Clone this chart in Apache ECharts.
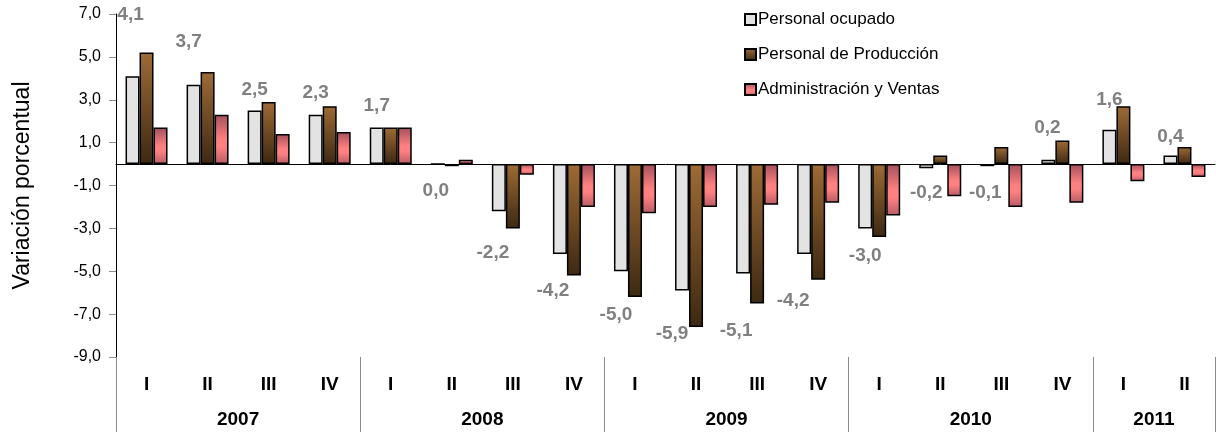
<!DOCTYPE html>
<html>
<head>
<meta charset="utf-8">
<script src="https://cdn.jsdelivr.net/npm/echarts@6/dist/echarts.min.js"></script>
<style>
  html, body { margin: 0; padding: 0; background: #fff; }
  #chart { width: 1216px; height: 432px; }
</style>
</head>
<body>
<div id="chart"></div>
<script>
var quarters = ['I', 'II', 'III', 'IV', 'I', 'II', 'III', 'IV', 'I', 'II', 'III', 'IV', 'I', 'II', 'III', 'IV', 'I', 'II'];
var years = ['2007', '2008', '2009', '2010', '2011'];
var quartersPerYear = [4, 4, 4, 4, 2];

var personalOcupado = [4.1, 3.7, 2.5, 2.3, 1.7, 0.0, -2.2, -4.2, -5.0, -5.9, -5.1, -4.2, -3.0, -0.2, -0.1, 0.2, 1.6, 0.4];
var personalProduccion = [5.2, 4.3, 2.9, 2.7, 1.7, -0.1, -3.0, -5.2, -6.2, -7.6, -6.5, -5.4, -3.4, 0.4, 0.8, 1.1, 2.7, 0.8];
var adminVentas = [1.7, 2.3, 1.4, 1.5, 1.7, 0.2, -0.5, -2.0, -2.3, -2.0, -1.9, -1.8, -2.4, -1.5, -2.0, -1.8, -0.8, -0.6];

var yTicks = [-9, -7, -5, -3, -1, 1, 3, 5, 7];

// ajuste de las etiquetas de Personal ocupado: [dx, distancia]
var labelShift = [[-2, 52], [-5, 33], [0, 11], [0, 12], [0, 12], [-2, 16], [-6, 32], [-7, 27], [-5, 34],
                  [-10, 34], [-7, 48], [-11, 37], [0, 18], [0, 15], [-2, 17], [-1, 23], [0, 20], [0, 9]];

function coma(v) {
  return v.toFixed(1).replace('.', ',');
}

// limites y centros de cada año sobre el eje de trimestres
var yearEdges = [0];
var yearCenters = [];
quartersPerYear.forEach(function (n, i) {
  yearCenters.push(yearEdges[i] + n / 2);
  yearEdges.push(yearEdges[i] + n);
});

var ocupadoData = personalOcupado.map(function (v, i) {
  return {
    value: v,
    label: {
      position: v > 0 ? 'top' : 'bottom',
      distance: labelShift[i][1],
      offset: [labelShift[i][0], 0]
    }
  };
});

var grayLine = '#8c8c8c';
var fuente = "'Liberation Sans', Arial, sans-serif";

var option = {
  animation: false,
  textStyle: { fontFamily: fuente },
  grid: { left: 116, right: 1, top: 14, bottom: 75 },
  legend: {
    orient: 'vertical',
    left: 739,
    top: 6,
    icon: 'rect',
    itemWidth: 11,
    itemHeight: 11,
    itemGap: 18,
    textStyle: { fontSize: 17, color: '#000', fontFamily: fuente, padding: [0, 0, 0, -3] },
    data: ['Personal ocupado', 'Personal de Producción', 'Administración y Ventas']
  },
  xAxis: [
    {
      type: 'category',
      data: quarters,
      position: 'bottom',
      axisLine: { onZero: true, lineStyle: { color: '#000', width: 1 } },
      axisTick: { length: 5, lineStyle: { color: grayLine } },
      axisLabel: { show: false }
    },
    {
      type: 'category',
      data: quarters,
      position: 'bottom',
      axisLine: { show: false, onZero: false },
      axisTick: { length: 37, lineStyle: { color: '#b0b0b0' } },
      axisLabel: { margin: 18, fontSize: 19, fontWeight: 'bold', color: '#000', fontFamily: fuente }
    },
    {
      type: 'value',
      min: 0,
      max: yearEdges[yearEdges.length - 1],
      position: 'bottom',
      splitLine: { show: false },
      axisLine: { show: false, onZero: false },
      axisTick: { customValues: yearEdges, length: 75, lineStyle: { color: grayLine } },
      axisLabel: {
        customValues: yearCenters,
        margin: 53,
        fontSize: 19,
        fontWeight: 'bold',
        color: '#000',
        fontFamily: fuente,
        formatter: function (v) {
          var k = yearCenters.indexOf(v);
          return k >= 0 ? years[k] : '';
        }
      }
    }
  ],
  yAxis: {
    type: 'value',
    min: -9,
    max: 7,
    name: 'Variación porcentual',
    nameLocation: 'middle',
    nameGap: 82,
    nameTextStyle: { fontSize: 23, color: '#000', fontFamily: fuente },
    splitLine: { show: false },
    axisLine: { show: true, onZero: false, lineStyle: { color: '#000', width: 1 } },
    axisTick: { customValues: yTicks, length: 7, lineStyle: { color: grayLine } },
    axisLabel: {
      customValues: yTicks,
      margin: 15,
      fontSize: 16,
      color: '#000',
      fontFamily: fuente,
      formatter: coma
    }
  },
  series: [
    {
      name: 'Personal ocupado',
      type: 'bar',
      xAxisIndex: 0,
      barWidth: 14,
      barGap: '0%',
      itemStyle: { color: '#e3e3e3', borderColor: '#000', borderWidth: 1.5 },
      label: {
        show: true,
        color: '#808080',
        fontSize: 19,
        fontWeight: 'bold',
        fontFamily: fuente,
        formatter: function (p) { return coma(p.value); }
      },
      data: ocupadoData
    },
    {
      name: 'Personal de Producción',
      type: 'bar',
      xAxisIndex: 0,
      barWidth: 14,
      barGap: '0%',
      itemStyle: {
        color: new echarts.graphic.LinearGradient(0, 0, 0, 1, [
          { offset: 0, color: '#9e6b35' },
          { offset: 1, color: '#3d2812' }
        ]),
        borderColor: '#000',
        borderWidth: 1.5
      },
      data: personalProduccion
    },
    {
      name: 'Administración y Ventas',
      type: 'bar',
      xAxisIndex: 0,
      barWidth: 14,
      barGap: '0%',
      itemStyle: {
        color: new echarts.graphic.LinearGradient(0, 0, 0, 1, [
          { offset: 0, color: '#a3505b' },
          { offset: 0.5, color: '#ff8080' },
          { offset: 0.65, color: '#ff8080' },
          { offset: 1, color: '#b85c66' }
        ]),
        borderColor: '#000',
        borderWidth: 1.5
      },
      data: adminVentas
    }
  ]
};

var myChart = echarts.init(document.getElementById('chart'));
myChart.setOption(option);
</script>
</body>
</html>
